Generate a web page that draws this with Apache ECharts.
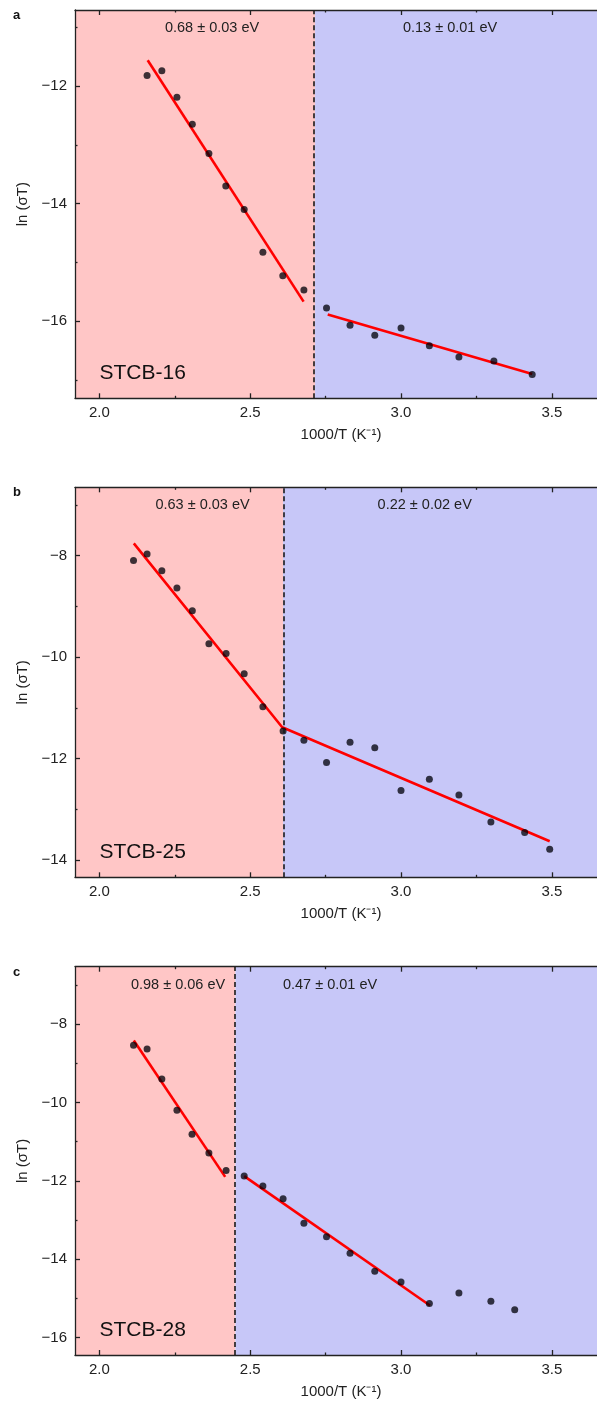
<!DOCTYPE html>
<html>
<head>
<meta charset="utf-8">
<title>Arrhenius plots of ln(σT) vs 1000/T</title>
<script src="https://cdn.jsdelivr.net/npm/echarts/dist/echarts.min.js"></script>
<style>
  html, body { margin: 0; padding: 0; background: #fff; }
  #chart { width: 597px; height: 1403px; }
</style>
</head>
<body>
<div id="chart"></div>
<script>
// ---- data: 1000/T (K^-1) and ln(sigma*T) for each sample ----
const sampleNames = ['STCB-16', 'STCB-25', 'STCB-28'];
const panelLetters = ['a', 'b', 'c'];

const xA = [2.158, 2.207, 2.257, 2.308, 2.363, 2.419, 2.480, 2.542, 2.608, 2.678,
            2.753, 2.831, 2.913, 3.000, 3.094, 3.192, 3.308, 3.435];
const yA = [-11.82, -11.74, -12.19, -12.65, -13.15, -13.70, -14.10, -14.83, -15.23, -15.47,
            -15.78, -16.07, -16.24, -16.12, -16.42, -16.61, -16.68, -16.91];
const fitA = [[[2.160, -11.56], [2.677, -15.67]], [[2.757, -15.89], [3.435, -16.90]]];
const splitA = 2.715;
const energiesA = ['0.68 ± 0.03 eV', '0.13 ± 0.01 eV'];

const xB = [2.113, 2.158, 2.207, 2.257, 2.308, 2.363, 2.420, 2.480, 2.542, 2.609,
            2.678, 2.753, 2.831, 2.913, 3.000, 3.094, 3.192, 3.298, 3.410, 3.493];
const yB = [-8.10, -7.97, -8.30, -8.64, -9.09, -9.74, -9.93, -10.33, -10.98, -11.46,
            -11.64, -12.08, -11.68, -11.79, -12.63, -12.41, -12.72, -13.25, -13.46, -13.79];
const fitB = [[[2.114, -7.76], [2.606, -11.385], [3.493, -13.63]]];
const splitB = 2.609;
const energiesB = ['0.63 ± 0.03 eV', '0.22 ± 0.02 eV'];

const xC = [2.113, 2.158, 2.207, 2.257, 2.307, 2.363, 2.420, 2.480, 2.542, 2.609,
            2.678, 2.753, 2.831, 2.913, 3.000, 3.094, 3.192, 3.298, 3.377];
const yC = [-8.54, -8.64, -9.40, -10.20, -10.81, -11.29, -11.74, -11.88, -12.13, -12.46,
            -13.08, -13.43, -13.85, -14.31, -14.58, -15.13, -14.86, -15.07, -15.29];
const fitC = [[[2.114, -8.42], [2.417, -11.90]], [[2.480, -11.88], [3.096, -15.18]]];
const splitC = 2.451;
const energiesC = ['0.98 ± 0.06 eV', '0.47 ± 0.01 eV'];

// ---- axis ticks ----
const xRange = [1.919, 3.683];
const xMajor = [2.0, 2.5, 3.0, 3.5];
const xMinor = [2.25, 2.75, 3.25];
const yRanges = [[-17.315, -10.706], [-14.341, -6.656], [-16.444, -6.538]];
const yMajor = [[-16, -14, -12], [-14, -12, -10, -8], [-16, -14, -12, -10, -8]];
const yMinor = [[-17, -15, -13, -11], [-13, -11, -9, -7], [-15, -13, -11, -9, -7]];

// ---- layout (pixels) ----
const FONT = '"Liberation Sans", Arial, Helvetica, sans-serif';
const INK = '#222';
const gridTops = [10, 487.3, 966.7];
const gridHeights = [388.3, 390, 388.3];
const gridLeft = 75, gridWidth = 532;
const energyLabelX = [[212, 450], [202.5, 424.7], [178, 330]];

const xs = [xA, xB, xC], ys = [yA, yB, yC];
const fits = [fitA, fitB, fitC];
const splits = [splitA, splitB, splitC];
const energies = [energiesA, energiesB, energiesC];

const grids = [], xAxes = [], yAxes = [], series = [], graphics = [];
const minus = v => String(v).replace('-', '\u2212');
const tickStyle = { color: INK, width: 1.3 };

for (let i = 0; i < 3; i++) {
  grids.push({ left: gridLeft, top: gridTops[i], width: gridWidth, height: gridHeights[i],
               containLabel: false, outerBoundsMode: 'none' });
  const base = { type: 'value', gridIndex: i, min: xRange[0], max: xRange[1], z: 10, splitLine: { show: false } };
  // bottom, major ticks + labels
  xAxes.push(Object.assign({}, base, {
    position: 'bottom',
    name: '1000/T (K\u207B\u00B9)', nameLocation: 'middle', nameGap: 29,
    nameTextStyle: { fontFamily: FONT, fontSize: 15, color: INK },
    axisLine: { show: true, onZero: false, lineStyle: tickStyle },
    axisTick: { show: true, inside: true, length: 5, customValues: xMajor, lineStyle: tickStyle },
    axisLabel: { show: true, customValues: xMajor, margin: 7, fontFamily: FONT, fontSize: 15, color: INK,
                 formatter: v => v.toFixed(1) }
  }));
  // bottom, minor ticks
  xAxes.push(Object.assign({}, base, {
    position: 'bottom',
    axisLine: { show: false, onZero: false },
    axisTick: { show: true, inside: true, length: 2.5, customValues: xMinor, lineStyle: tickStyle },
    axisLabel: { show: false }
  }));
  // top border, major ticks
  xAxes.push(Object.assign({}, base, {
    position: 'top',
    axisLine: { show: true, onZero: false, lineStyle: tickStyle },
    axisTick: { show: true, inside: true, length: 5, customValues: xMajor, lineStyle: tickStyle },
    axisLabel: { show: false }
  }));
  // top border, minor ticks
  xAxes.push(Object.assign({}, base, {
    position: 'top',
    axisLine: { show: false, onZero: false },
    axisTick: { show: true, inside: true, length: 2.5, customValues: xMinor, lineStyle: tickStyle },
    axisLabel: { show: false }
  }));

  const ybase = { type: 'value', gridIndex: i, min: yRanges[i][0], max: yRanges[i][1], z: 10, splitLine: { show: false } };
  yAxes.push(Object.assign({}, ybase, {
    position: 'left',
    name: 'ln (\u03C3T)', nameLocation: 'middle', nameGap: 43, nameRotate: 90,
    nameTextStyle: { fontFamily: FONT, fontSize: 15, color: INK },
    axisLine: { show: true, onZero: false, lineStyle: tickStyle },
    axisTick: { show: true, inside: true, length: 5, customValues: yMajor[i], lineStyle: tickStyle },
    axisLabel: { show: true, customValues: yMajor[i], margin: 8, fontFamily: FONT, fontSize: 15, color: INK,
                 formatter: v => minus(v) }
  }));
  yAxes.push(Object.assign({}, ybase, {
    position: 'left',
    axisLine: { show: false, onZero: false },
    axisTick: { show: true, inside: true, length: 2.5, customValues: yMinor[i], lineStyle: tickStyle },
    axisLabel: { show: false }
  }));

  const xi = i * 4, yi = i * 2;

  // shaded regions and the dashed boundary
  series.push({
    type: 'line', xAxisIndex: xi, yAxisIndex: yi, data: [], silent: true, z: 1,
    markArea: {
      silent: true,
      data: [
        [{ xAxis: xRange[0], itemStyle: { color: '#ffc6c6' } }, { xAxis: splits[i] }],
        [{ xAxis: splits[i], itemStyle: { color: '#c7c7f8' } }, { xAxis: xRange[1] }]
      ]
    },
    markLine: {
      silent: true, symbol: ['none', 'none'], label: { show: false },
      lineStyle: { color: '#1a1a1a', type: [5, 3], width: 1.6 },
      data: [{ xAxis: splits[i] }]
    }
  });

  // linear fits
  fits[i].forEach(seg => {
    series.push({
      type: 'line', xAxisIndex: xi, yAxisIndex: yi, data: seg, z: 3,
      showSymbol: false, symbol: 'none', silent: true,
      lineStyle: { color: '#ff0000', width: 2.6 }
    });
  });

  // measured points
  series.push({
    type: 'scatter', xAxisIndex: xi, yAxisIndex: yi, z: 4, silent: true,
    symbolSize: 7,
    itemStyle: { color: 'rgba(0,0,8,0.95)' },
    data: xs[i].map((x, k) => [x, ys[i][k]])
  });

  // annotations
  const top = gridTops[i], bottom = gridTops[i] + gridHeights[i];
  energies[i].forEach((t, k) => graphics.push({
    type: 'text', x: energyLabelX[i][k], y: top + 18, z: 10,
    style: { text: t, fontFamily: FONT, fontSize: 14.5, fill: INK, align: 'center', verticalAlign: 'middle' }
  }));
  graphics.push({
    type: 'text', x: 99.5, y: bottom - 25, z: 10,
    style: { text: sampleNames[i], fontFamily: FONT, fontSize: 21, fill: '#111', align: 'left', verticalAlign: 'middle' }
  });
  graphics.push({
    type: 'text', x: 13, y: top + 5.5, z: 10,
    style: { text: panelLetters[i], fontFamily: FONT, fontSize: 13, fontWeight: 'bold', fill: '#111', align: 'left', verticalAlign: 'middle' }
  });
}

const chart = echarts.init(document.getElementById('chart'), null, { renderer: 'canvas' });
chart.setOption({
  animation: false,
  backgroundColor: '#ffffff',
  grid: grids,
  xAxis: xAxes,
  yAxis: yAxes,
  series: series,
  graphic: graphics
});
</script>
</body>
</html>
